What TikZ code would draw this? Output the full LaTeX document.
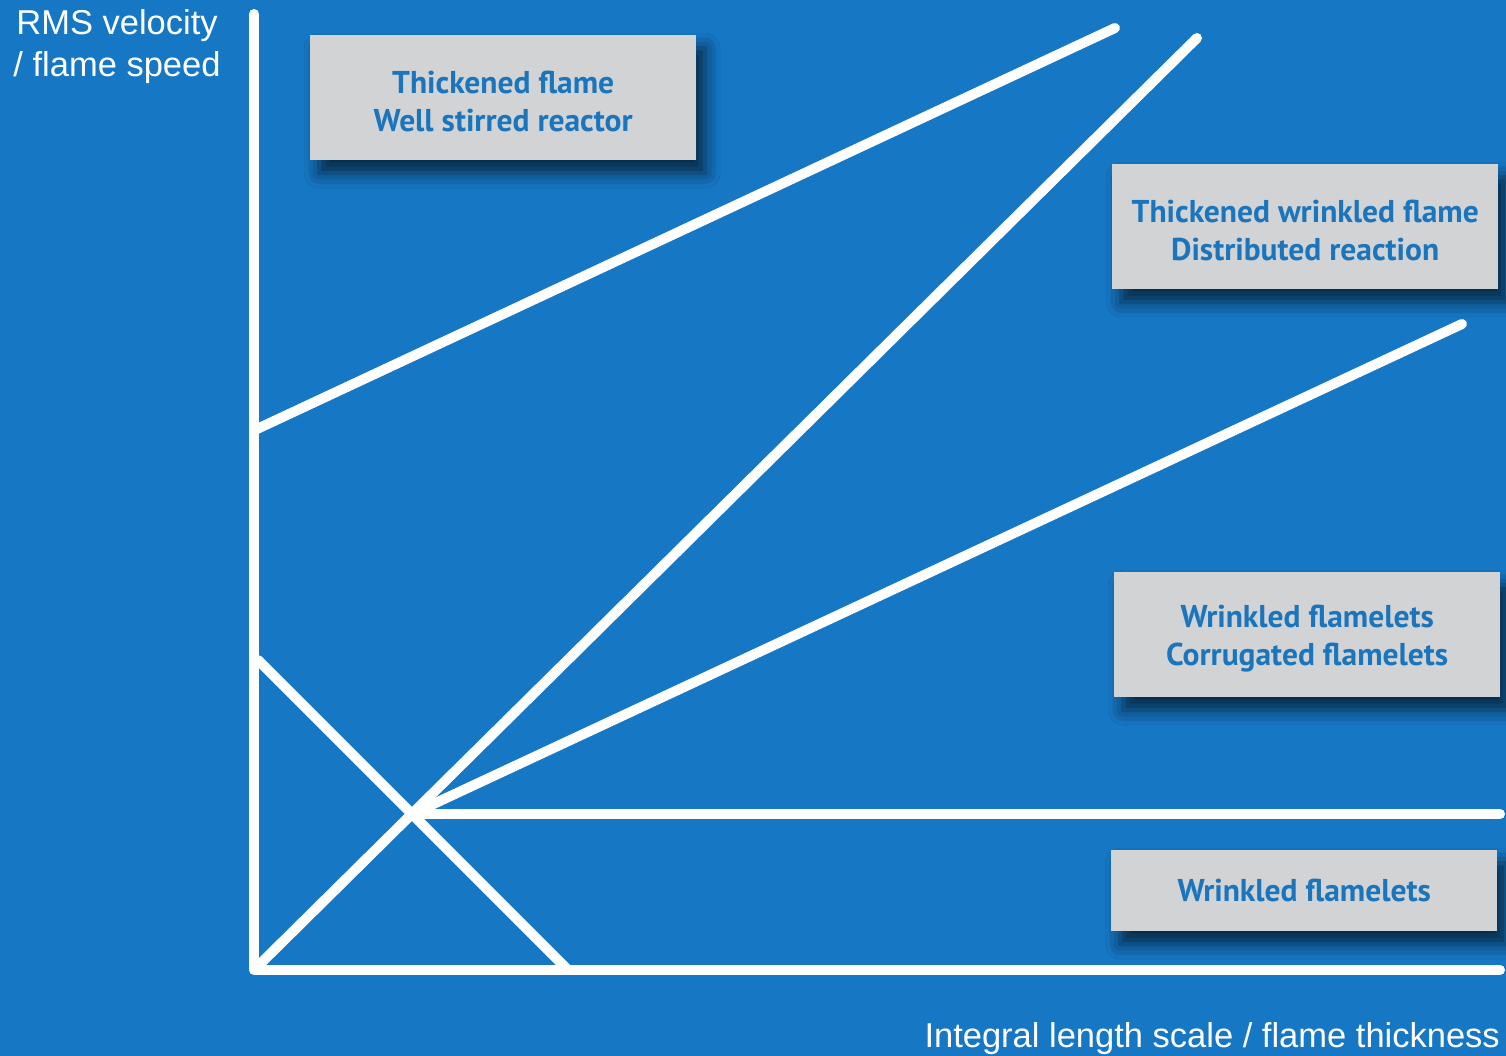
\documentclass[tikz,border=0pt]{standalone}
\usepackage{fontspec}
\setmainfont{Liberation Sans}
\newfontfamily\boxfont{PT Sans}
\usetikzlibrary{shadows.blur}
\definecolor{bgblue}{RGB}{22,119,197}
\definecolor{txtblue}{RGB}{26,117,188}
\definecolor{boxgray}{RGB}{209,211,212}
\newcommand\boxstrut{\rule{0pt}{30pt}}
\tikzset{
  axisline/.style={white, line width=10pt, line cap=round, line join=round},
  regionline/.style={white, line width=10pt, line cap=round},
  regionbox/.style={fill=boxgray, draw=none, inner sep=0pt, anchor=north west,
    minimum width=386pt,
    font=\boxfont\bfseries\fontsize{31.5}{38.5}\selectfont, text=txtblue, align=center,
    blur shadow={shadow xshift=9pt, shadow yshift=-13pt, shadow blur radius=15pt,
      shadow opacity=65}},
  axislabel/.style={white, font=\fontsize{34.5}{42}\selectfont, inner sep=0pt}
}
\begin{document}
\begin{tikzpicture}[x=1pt,y=-1pt]
\fill[bgblue] (0,0) rectangle (1506,1056);
\useasboundingbox (0,0) rectangle (1506,1056);
% coordinates
\coordinate (ytop) at (254,14);
\coordinate (orig) at (254,970);
\coordinate (xend) at (1500,970);
\coordinate (ua) at (257,429);
\coordinate (ub) at (1115,28);
\coordinate (sa) at (256,968);
\coordinate (sb) at (1197,38);
\coordinate (cross) at (412,814);
\coordinate (mb) at (1462,324);
\coordinate (hb) at (1500,814);
\coordinate (da) at (258,660);
\coordinate (db) at (566,968);
% lines
\draw[regionline] (ua) -- (ub);
\draw[regionline] (sa) -- (sb);
\draw[regionline] (cross) -- (mb);
\draw[regionline] (cross) -- (hb);
\draw[regionline] (da) -- (db);
\draw[axisline] (ytop) -- (orig) -- (xend);
% boxes
\node[regionbox, minimum height=125pt] (b1) at (310,35) {\boxstrut Thickened flame\\Well stirred reactor};
\node[regionbox, minimum height=125pt] (b2) at (1112,164) {\boxstrut Thickened wrinkled flame\\Distributed reaction};
\node[regionbox, minimum height=125pt] (b3) at (1114,572) {\boxstrut Wrinkled flamelets\\Corrugated flamelets};
\node[regionbox, minimum height=81pt] (b4) at (1111,850) {Wrinkled flamelets};
% axis labels
\node[axislabel, anchor=base] (yl1) at (117,35) {RMS velocity};
\node[axislabel, anchor=base] (yl2) at (117,77) {/ flame speed};
\node[axislabel, anchor=base east] (xl) at (1500,1047) {Integral length scale / flame thickness};
\end{tikzpicture}
\end{document}
